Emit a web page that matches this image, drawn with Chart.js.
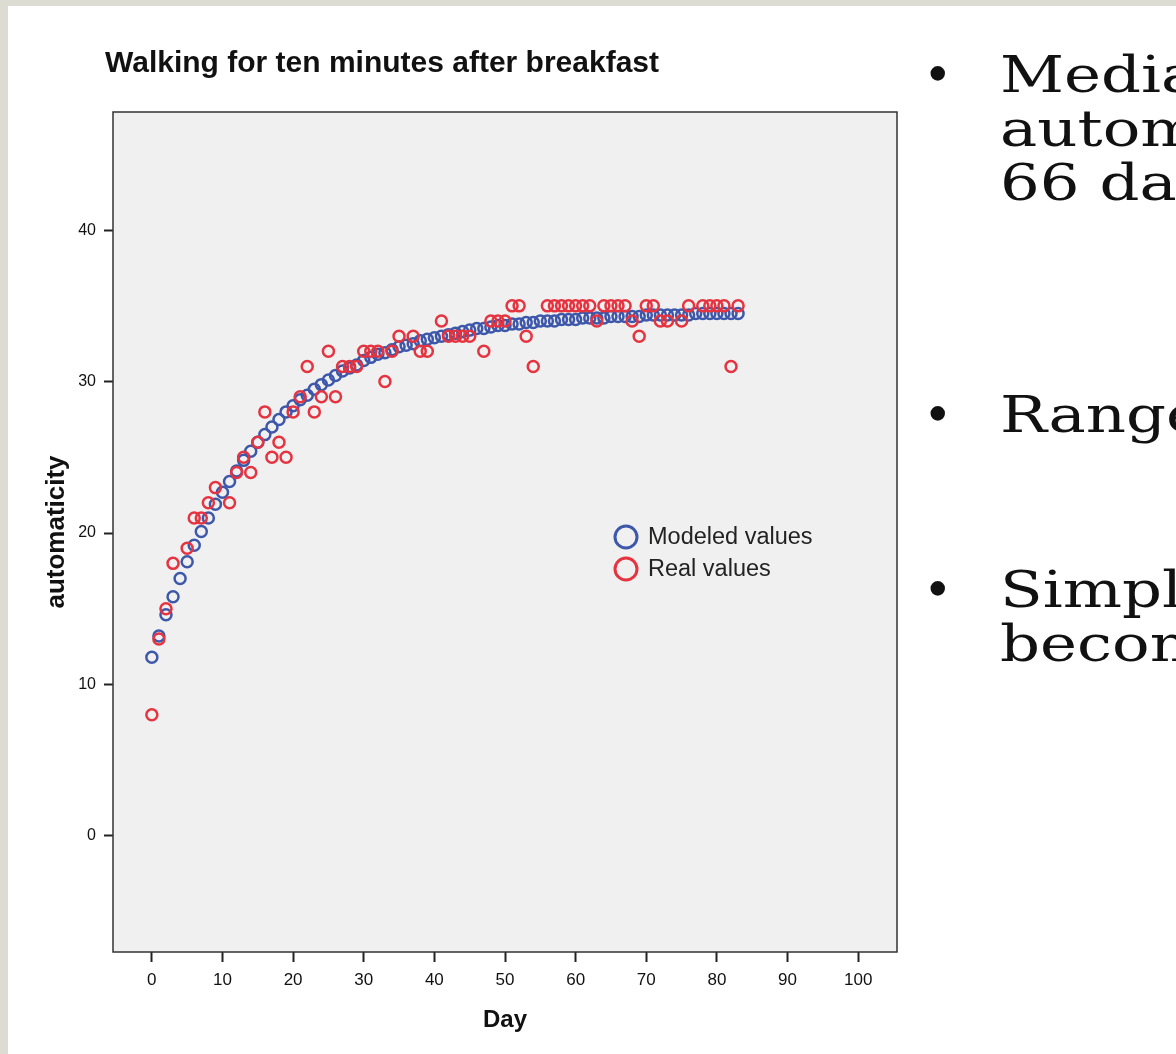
<!DOCTYPE html>
<html>
<head>
<meta charset="utf-8">
<script src="https://cdn.jsdelivr.net/npm/chart.js@4.4.1/dist/chart.umd.min.js"></script>
<style>
  html, body { margin: 0; padding: 0; width: 1176px; height: 1054px; overflow: hidden; background: #dcdcd2; }
  #slide { position: absolute; left: 8px; top: 6px; right: 0; bottom: 0; background: #fff; }
  #chartWrap { position: absolute; left: 0; top: 0; width: 920px; height: 1054px; }
  #title { position: absolute; left: 105px; top: 45px; font: bold 30px "Liberation Sans", Arial, sans-serif; color: #111; white-space: nowrap; line-height: 34px; }
  .txt { position: absolute; left: 1000px; font: 50px "DejaVu Serif", Georgia, serif; color: #111; white-space: nowrap; line-height: 54px; transform: scaleX(1.25); transform-origin: 0 0; }
  .bul { position: absolute; left: 923px; font: 50px "DejaVu Serif", Georgia, serif; color: #111; line-height: 54px; }
</style>
</head>
<body>
<div id="slide"></div>
<div id="chartWrap"><canvas id="myChart" width="920" height="1054"></canvas></div>
<div id="title">Walking for ten minutes after breakfast</div>
<div class="bul" style="top:48px">•</div>
<div class="txt" style="top:48px">Median time to reach<br>automaticity was<br>66 days</div>
<div class="bul" style="top:388px">•</div>
<div class="txt" style="top:388px">Range 18 – 254 days</div>
<div class="bul" style="top:563px">•</div>
<div class="txt" style="top:563px">Simple behaviours<br>become automatic sooner</div>
<script>
// giorni e valori del modello
const modelDays = [0,1,2,3,4,5,6,7,8,9,10,11,12,13,14,15,16,17,18,19,20,21,22,23,24,25,26,27,28,29,30,31,32,33,34,35,36,37,38,39,40,41,42,43,44,45,46,47,48,49,50,51,52,53,54,55,56,57,58,59,60,61,62,63,64,65,66,67,68,69,70,71,72,73,74,75,76,77,78,79,80,81,82,83];
const modeledValues = [11.8,13.2,14.6,15.8,17.0,18.1,19.2,20.1,21.0,21.9,22.7,23.4,24.1,24.8,25.4,26.0,26.5,27.0,27.5,28.0,28.4,28.8,29.1,29.5,29.8,30.1,30.4,30.7,30.9,31.1,31.4,31.6,31.8,31.9,32.1,32.3,32.4,32.5,32.7,32.8,32.9,33.0,33.1,33.2,33.3,33.4,33.5,33.5,33.6,33.7,33.7,33.8,33.8,33.9,33.9,34.0,34.0,34.0,34.1,34.1,34.1,34.2,34.2,34.2,34.2,34.3,34.3,34.3,34.3,34.3,34.4,34.4,34.4,34.4,34.4,34.4,34.4,34.5,34.5,34.5,34.5,34.5,34.5,34.5];

// giorni e valori reali
const realDays = [0,1,2,3,5,6,7,8,9,11,12,13,14,15,16,17,18,19,20,21,22,23,24,25,26,27,28,29,30,31,32,33,34,35,37,38,39,41,42,43,44,45,47,48,49,50,51,52,53,54,56,57,58,59,60,61,62,63,64,65,66,67,68,69,70,71,72,73,75,76,78,79,80,81,82,83];
const realValues = [8,13,15,18,19,21,21,22,23,22,24,25,24,26,28,25,26,25,28,29,31,28,29,32,29,31,31,31,32,32,32,30,32,33,33,32,32,34,33,33,33,33,32,34,34,34,35,35,33,31,35,35,35,35,35,35,35,34,35,35,35,35,34,33,35,35,34,34,34,35,35,35,35,35,31,35];

const xTicks = [0,10,20,30,40,50,60,70,80,90,100];
const yTicks = [0,10,20,30,40];
const seriesNames = ['Modeled values', 'Real values'];

const blue = '#3d57aa';
const red = '#e5333f';

// sfondo grigio e cornice dell'area del grafico
const plotBox = {
  id: 'plotBox',
  beforeDraw(chart) {
    const {ctx, chartArea: a} = chart;
    ctx.save();
    ctx.fillStyle = '#f0f0f0';
    ctx.fillRect(a.left, a.top, a.right - a.left, a.bottom - a.top);
    ctx.restore();
  },
  afterDraw(chart) {
    const {ctx, chartArea: a} = chart;
    ctx.save();
    ctx.strokeStyle = '#333';
    ctx.lineWidth = 1.5;
    ctx.strokeRect(a.left, a.top, a.right - a.left, a.bottom - a.top);
    ctx.restore();
  }
};

// legenda dentro l'area del grafico
const innerLegend = {
  id: 'innerLegend',
  afterDraw(chart) {
    const {ctx, chartArea: a} = chart;
    const x = a.left + 513, y0 = a.top + 425;
    ctx.save();
    ctx.font = '23.5px "Liberation Sans", Arial, sans-serif';
    ctx.textBaseline = 'middle';
    chart.data.datasets.forEach((ds, i) => {
      const y = y0 + i * 32;
      ctx.beginPath();
      ctx.arc(x, y, 11, 0, Math.PI * 2);
      ctx.lineWidth = 3;
      ctx.strokeStyle = ds.borderColor;
      ctx.stroke();
      ctx.fillStyle = '#222';
      ctx.fillText(ds.label, x + 22, y + 1);
    });
    ctx.restore();
  }
};

const ctx = document.getElementById('myChart').getContext('2d');
new Chart(ctx, {
  type: 'scatter',
  data: {
    datasets: [
      {
        label: seriesNames[0],
        data: modelDays.map((d, i) => ({x: d, y: modeledValues[i]})),
        borderColor: blue,
        backgroundColor: 'rgba(0,0,0,0)',
        borderWidth: 2.5,
        pointRadius: 5.5,
        order: 1
      },
      {
        label: seriesNames[1],
        data: realDays.map((d, i) => ({x: d, y: realValues[i]})),
        borderColor: red,
        backgroundColor: 'rgba(0,0,0,0)',
        borderWidth: 2.5,
        pointRadius: 5.5,
        order: 0
      }
    ]
  },
  options: {
    responsive: false,
    animation: false,
    layout: { padding: { left: 0, right: 23, top: 112, bottom: 12 } },
    plugins: { legend: { display: false }, tooltip: { enabled: false } },
    scales: {
      x: {
        type: 'linear',
        min: -5.5,
        max: 105.5,
        afterBuildTicks: s => { s.ticks = xTicks.map(v => ({value: v})); },
        afterFit: s => { s.height = 90; },
        grid: { drawOnChartArea: false, tickLength: 10, tickColor: '#222', tickWidth: 2 },
        border: { display: false },
        ticks: { color: '#111', font: { size: 17, family: '"Liberation Sans", Arial, sans-serif' }, padding: 8, maxRotation: 0 },
        title: { display: true, text: 'Day', color: '#111', font: { size: 24, weight: 'bold', family: '"Liberation Sans", Arial, sans-serif' }, padding: { top: 0, bottom: 7 } }
      },
      y: {
        type: 'linear',
        min: -7.66,
        max: 47.8,
        afterBuildTicks: s => { s.ticks = yTicks.map(v => ({value: v})); },
        afterFit: s => { s.width = 113; },
        grid: { drawOnChartArea: false, tickLength: 9, tickColor: '#222', tickWidth: 2 },
        border: { display: false },
        ticks: { color: '#111', font: { size: 16, family: '"Liberation Sans", Arial, sans-serif' }, padding: 8 },
        title: { display: true, text: 'automaticity', color: '#111', font: { size: 26, weight: 'bold', family: '"Liberation Sans", Arial, sans-serif' }, padding: { top: 41, bottom: 0 } }
      }
    }
  },
  plugins: [plotBox, innerLegend]
});
</script>
</body>
</html>
